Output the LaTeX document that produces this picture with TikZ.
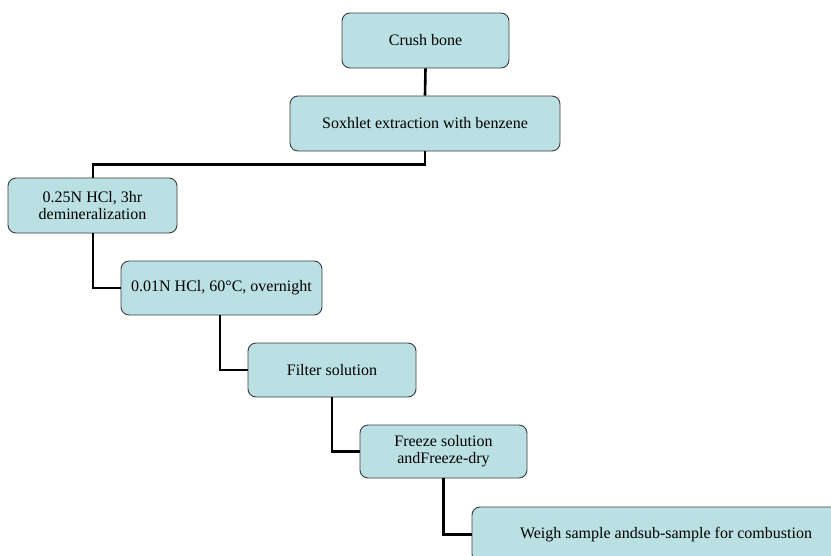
\documentclass[tikz,border=0pt]{standalone}
\usepackage{fontspec}
\setmainfont{Liberation Serif}
\definecolor{boxfill}{RGB}{186,224,227}
\definecolor{boxline}{RGB}{60,60,60}
\begin{document}
\begin{tikzpicture}[x=1pt,y=-1pt,
  stepbox/.style={draw=boxline, line width=0.9pt, fill=boxfill, rounded corners=8pt,
    align=center, inner sep=0pt, font=\fontsize{16}{17}\selectfont},
  link/.style={draw=black, line width=2.6pt}]
\useasboundingbox (0,0) rectangle (831,555);
\node[stepbox, minimum width=167pt, minimum height=55pt] (b1) at (425.5,40.5) {Crush bone};
\node[stepbox, minimum width=270pt, minimum height=55pt] (b2) at (425,123.5) {Soxhlet extraction with benzene};
\node[stepbox, minimum width=169pt, minimum height=55pt] (b3) at (92.5,205.5) {0.25N HCl, 3hr\\demineralization};
\node[stepbox, minimum width=201pt, minimum height=54pt] (b4) at (221.5,288) {0.01N HCl, 60°C, overnight};
\node[stepbox, minimum width=168pt, minimum height=54pt] (b5) at (332,370) {Filter solution};
\node[stepbox, minimum width=167pt, minimum height=53pt] (b6) at (443.5,451.5) {Freeze solution\\andFreeze-dry};
\node[stepbox, minimum width=388pt, minimum height=55pt] (b7) at (666,534.5) {Weigh sample andsub-sample for combustion};
\draw[link] (b1.south) -- (b2.north);
\draw[link] (b2.south) -- ([yshift=-13pt]b2.south) -| ([xshift=0.5pt]b3.north);
\draw[link] ([xshift=0.5pt]b3.south) |- (b4.west);
\draw[link] ([xshift=-1.5pt]b4.south) |- (b5.west);
\draw[link] (b5.south) |- (b6.west);
\draw[link] (b6.south) |- (b7.west);
\end{tikzpicture}
\end{document}
